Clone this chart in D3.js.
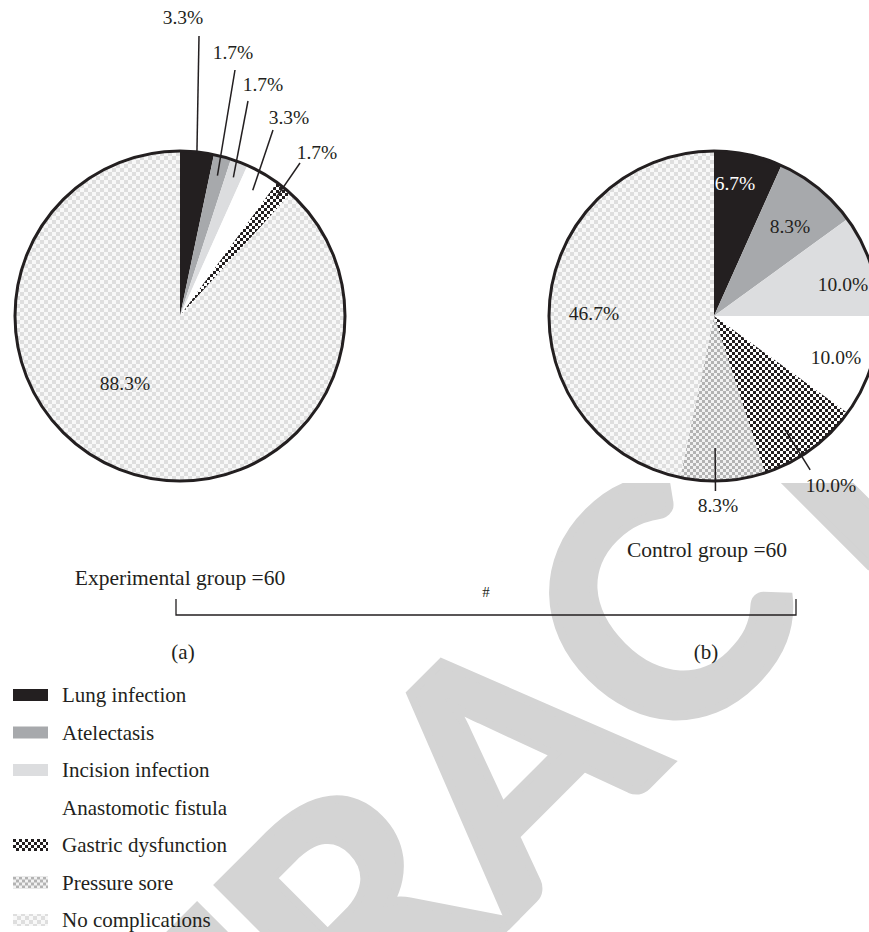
<!DOCTYPE html>
<html>
<head>
<meta charset="utf-8">
<script src="https://cdn.jsdelivr.net/npm/d3@7/dist/d3.min.js"></script>
<style>
  html, body { margin: 0; padding: 0; background: #ffffff; }
  svg { display: block; }
</style>
</head>
<body>
<div id="chart"></div>
<script>
// ---------------- DATA ----------------
const categories = ["Lung infection", "Atelectasis", "Incision infection", "Anastomotic fistula",
                    "Gastric dysfunction", "Pressure sore", "No complications"];
const experimentalValues = [3.3, 1.7, 1.7, 3.3, 1.7, 0, 88.3];
const controlValues      = [6.7, 8.3, 10.0, 10.0, 10.0, 8.3, 46.7];
const groupLabels = ["Experimental group =60", "Control group =60"];
const panelLabels = ["(a)", "(b)"];
const significanceMark = "#";
const watermarkText = "RETRACTED";

// ---------------- LAYOUT / STYLE ----------------
const W = 869, H = 932;
const INK = "#231f20";
const R = 165;
const pieCenters = [[180, 316], [714, 316]];
const fillIds = ["solidBlack", "solidGray", "solidLight", "solidWhite", "chkBlack", "chkGray", "chkLight"];

// label placement (offsets relative to pie center)
const layoutA = [
  {text: [3, -299],  top: [19, -280], end: 0.99},
  {text: [53, -264], top: [55, -246], end: 0.88},
  {text: [83, -232], top: [68, -215], end: 0.90},
  {text: [109, -199], top: [93, -186], end: 0.88},
  {text: [137, -164], top: [120, -153], end: 0.93},
  null,
  {text: [-55, 67]}
];
const layoutB = [
  {text: [21, -133], color: "#ffffff"},
  {text: [76, -90]},
  {text: [129, -32]},
  {text: [122, 41]},
  {text: [117, 169], lineFrom: 0.8, lineTo: 1.1, dAngle: 0.07},
  {text: [4, 189], lineFrom: 0.8, lineTo: 1.06, dAngle: 0.045},
  {text: [-120, -3]}
];

const svg = d3.select("#chart").append("svg")
  .attr("width", W).attr("height", H)
  .attr("viewBox", `0 0 ${W} ${H}`);

// ---------------- PATTERNS ----------------
const defs = svg.append("defs");
function solid(id, color) {
  const p = defs.append("pattern").attr("id", id).attr("patternUnits", "userSpaceOnUse")
    .attr("width", 4).attr("height", 4);
  p.append("rect").attr("width", 4).attr("height", 4).attr("fill", color);
}
function checker(id, size, c1, c2) {
  const p = defs.append("pattern").attr("id", id).attr("patternUnits", "userSpaceOnUse")
    .attr("width", size * 2).attr("height", size * 2);
  p.append("rect").attr("width", size * 2).attr("height", size * 2).attr("fill", c2);
  p.append("rect").attr("width", size).attr("height", size).attr("fill", c1);
  p.append("rect").attr("x", size).attr("y", size).attr("width", size).attr("height", size).attr("fill", c1);
}
solid("solidBlack", INK);
solid("solidGray", "#a7a9ac");
solid("solidLight", "#dcdddf");
solid("solidWhite", "#ffffff");
checker("chkBlack", 3, INK, "#ffffff");
checker("chkGray", 3, "#b3b3b3", "#f2f2f2");
checker("chkLight", 4, "#dedede", "#f8f8f8");

// ---------------- WATERMARK ----------------
defs.append("clipPath").attr("id", "wmClip")
  .append("rect").attr("x", 0).attr("y", 483).attr("width", W).attr("height", H - 483);
const wmG = svg.append("g").attr("clip-path", "url(#wmClip)")
  .append("g").attr("transform", "translate(588,845) rotate(-45)");
const wm = wmG.append("text")
  .attr("x", 0).attr("y", 0)
  .attr("font-family", "Lato, 'Liberation Sans', Arial, sans-serif")
  .attr("font-weight", "bold")
  .attr("font-size", 322)
  .attr("fill", "#d4d4d4")
  .attr("stroke", "#d4d4d4")
  .attr("stroke-width", 8)
  .attr("stroke-linejoin", "miter")
  .text(watermarkText);
// centre the word on its middle letter ("A")
try {
  const node = wm.node();
  const idx = watermarkText.indexOf("A");
  const s = node.getStartPositionOfChar(idx).x;
  const e = node.getEndPositionOfChar(idx).x;
  wm.attr("x", -(s + e) / 2);
} catch (err) {
  wm.attr("text-anchor", "middle");
}

// ---------------- PIES ----------------
const pie = d3.pie().sort(null).value(d => d);
const arc = d3.arc().innerRadius(0).outerRadius(R);
const fmt = v => d3.format(".1f")(v) + "%";
const polar = (a, r) => [r * Math.sin(a), -r * Math.cos(a)];
const serif = "'Liberation Serif', 'Times New Roman', serif";

function drawPie(values, center, layout) {
  const g = svg.append("g").attr("transform", `translate(${center[0]},${center[1]})`);
  const arcs = pie(values);
  g.selectAll("path.slice").data(arcs).join("path")
    .attr("class", "slice")
    .attr("d", arc)
    .attr("fill", (d, i) => `url(#${fillIds[i]})`)
    .attr("stroke", "none");
  g.append("circle").attr("r", R).attr("fill", "none")
    .attr("stroke", INK).attr("stroke-width", 3);

  arcs.forEach((d, i) => {
    const L = layout[i];
    if (!L || d.value === 0) return;
    const mid = (d.startAngle + d.endAngle) / 2;
    if (L.top) {
      const e = polar(mid, R * L.end);
      g.append("line").attr("x1", L.top[0]).attr("y1", L.top[1])
        .attr("x2", e[0]).attr("y2", e[1])
        .attr("stroke", INK).attr("stroke-width", 1.5);
    }
    if (L.lineFrom) {
      const a = mid + (L.dAngle || 0);
      const p1 = polar(a, R * L.lineFrom), p2 = polar(a, R * L.lineTo);
      g.append("line").attr("x1", p1[0]).attr("y1", p1[1])
        .attr("x2", p2[0]).attr("y2", p2[1])
        .attr("stroke", INK).attr("stroke-width", 1.5);
    }
    g.append("text")
      .attr("x", L.text[0]).attr("y", L.text[1] + 7)
      .attr("text-anchor", "middle")
      .attr("font-family", serif)
      .attr("font-size", 19.5)
      .attr("fill", L.color || INK)
      .text(fmt(d.value));
  });
}
drawPie(experimentalValues, pieCenters[0], layoutA);
drawPie(controlValues, pieCenters[1], layoutB);

// ---------------- GROUP LABELS ----------------
const groupPos = [[180, 585], [707, 557]];
svg.selectAll("text.group").data(groupLabels).join("text")
  .attr("class", "group")
  .attr("x", (d, i) => groupPos[i][0]).attr("y", (d, i) => groupPos[i][1])
  .attr("text-anchor", "middle").attr("font-family", serif).attr("font-size", 21.5)
  .attr("fill", INK).text(d => d);

svg.selectAll("text.panel").data(panelLabels).join("text")
  .attr("class", "panel")
  .attr("x", (d, i) => [183, 706][i]).attr("y", 659)
  .attr("text-anchor", "middle").attr("font-family", serif).attr("font-size", 21)
  .attr("fill", INK).text(d => d);

// significance bracket
svg.append("path")
  .attr("d", "M176,599 V615 H796 V599")
  .attr("fill", "none").attr("stroke", INK).attr("stroke-width", 1.3);
svg.append("text").attr("x", 486).attr("y", 597)
  .attr("text-anchor", "middle").attr("font-family", serif).attr("font-size", 15)
  .attr("fill", INK).text(significanceMark);

// ---------------- LEGEND ----------------
const legend = svg.append("g").attr("transform", "translate(13,695)");
const rows = legend.selectAll("g").data(categories).join("g")
  .attr("transform", (d, i) => `translate(0,${i * 37.5})`);
rows.append("rect").attr("x", 0).attr("y", -6).attr("width", 35).attr("height", 12)
  .attr("fill", (d, i) => `url(#${fillIds[i]})`);
rows.append("text").attr("x", 49).attr("y", 7)
  .attr("font-family", serif).attr("font-size", 21).attr("fill", INK)
  .text(d => d);
</script>
</body>
</html>
